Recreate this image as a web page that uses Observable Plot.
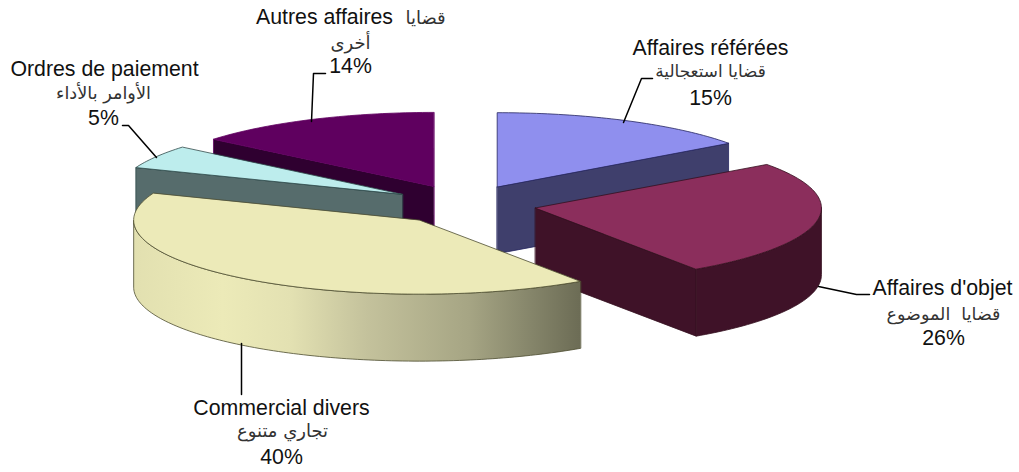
<!DOCTYPE html>
<html>
<head>
<meta charset="utf-8">
<script src="https://cdn.jsdelivr.net/npm/d3@7"></script>
<script src="https://cdn.jsdelivr.net/npm/@observablehq/plot@0.6"></script>
<style>
html,body{margin:0;padding:0;background:#fff}
svg{display:block}
</style>
</head>
<body>
<div id="chart"></div>
<script>
// Data
const categoriesFr = ["Affaires référées", "Affaires d'objet", "Commercial divers", "Ordres de paiement", "Autres affaires"];
const categoriesAr = ["قضايا استعجالية", "قضايا  الموضوع", "تجاري متنوع", "الأوامر بالأداء", "أخرى"];
const extraAr = "قضايا";
const values = [15.0, 25.5, 40.4, 5.1, 14.0];

// Styles
const topColors = ["#8F8FEE", "#8B2E5C", "#ECEAB8", "#BDEDED", "#5F005F"];
const sideColors = ["#3F3F6C", "#3F1228", "#C9C79C", "#566C6C", "#2F0030"];
const edgeColors = ["#26265f", "#35101f", "#4c4c30", "#2f4a4a", "#5F005F"];
const drawOrder = [0, 1, 4, 3, 2];
const arFontSizes = [16.9, 17.5, 18, 17.7, 18];
const extraArFontSize = 18;

// Pie geometry
const W = 1019, H = 472;
const cx = 464, cy = 204, rx = 286, ry = 74, depth = 67;
const explodeX = 72, explodeY = 20;

const arcs = d3.pie().sort(null).value(d => d)(values);
const slices = arcs.map((a, i) => {
  const mid = (a.startAngle + a.endAngle) / 2;
  return {
    i,
    a0: a.startAngle,
    a1: a.endAngle,
    ox: cx + explodeX * Math.sin(mid),
    oy: cy - explodeY * Math.cos(mid)
  };
});
const rim = (s, t, h = 0) => [s.ox + rx * Math.sin(t), s.oy - ry * Math.cos(t) + h];
function arcPts(s, t0, t1, h = 0) {
  const n = Math.max(8, Math.ceil((t1 - t0) * 50));
  return d3.range(n + 1).map(k => rim(s, t0 + (t1 - t0) * k / n, h));
}
const topFace = s => [[s.ox, s.oy], ...arcPts(s, s.a0, s.a1)];
// Only the front half of the rim (quarter to three-quarter turn) faces the viewer
const frontFrom = Math.PI / 2, frontTo = 3 * Math.PI / 2;
function wallFace(s) {
  const t0 = Math.max(s.a0, frontFrom), t1 = Math.min(s.a1, frontTo);
  if (t1 <= t0) return null;
  return [...arcPts(s, t0, t1), ...arcPts(s, t0, t1, depth).reverse()];
}
const radialFace = (s, t) => [[s.ox, s.oy], rim(s, t), rim(s, t, depth), [s.ox, s.oy + depth]];

const face = (pts, fill, stroke, sw = 0.8) => Plot.line(pts, {
  x: d => d[0], y: d => d[1], curve: "linear-closed",
  fill, stroke, strokeWidth: sw, strokeLinejoin: "round"
});

const sliceMarks = drawOrder.flatMap(i => {
  const s = slices[i];
  const edge = edgeColors[i], side = sideColors[i];
  const wallFill = i === 2 ? "url(#wallGradient)" : side;
  const out = [];
  if (Math.sin(s.a0) < -1e-6) out.push(face(radialFace(s, s.a0), side, edge));
  if (Math.sin(s.a1) > 1e-6) out.push(face(radialFace(s, s.a1), side, edge));
  const w = wallFace(s);
  if (w) out.push(face(w, wallFill, edge));
  out.push(face(topFace(s), topColors[i], edge));
  return out;
});

// Gradient for the large slice's outer wall
const wallStops = [[0, "#E2E0B0"], [0.2, "#ECEAB8"], [0.35, "#E3E1B2"], [0.52, "#C4C29C"], [0.75, "#A6A584"], [0.89, "#85856A"], [1, "#6C6C55"]];
const gradientDefs = () => {
  const defs = d3.create("svg:defs");
  const g = defs.append("linearGradient").attr("id", "wallGradient").attr("x1", 0).attr("x2", 1).attr("y1", 0).attr("y2", 0);
  wallStops.forEach(([o, c]) => g.append("stop").attr("offset", o).attr("stop-color", c));
  return defs.node();
};

// Leaders and label layout
const leaders = [
  [[623, 122], [641, 78], [652, 78]],
  [[818, 286], [856, 294], [869, 294]],
  [[241, 343], [241, 394]],
  [[156, 157], [128, 125], [122, 125]],
  [[311, 121], [313, 73], [325, 73]]
];
const frPos = [[710, 48], [942, 288], [281, 408], [104, 69], [324, 17]];
const arPos = [[710, 71], [943, 314], [282, 431], [103, 93], [350, 43]];
const pctPos = [[710, 98], [943, 338], [281, 457], [103, 118], [350, 66]];
const extraArPos = [425, 18];

const latinLines = [
  ...categoriesFr.map((t, i) => ({t, p: frPos[i]})),
  ...values.map((v, i) => ({t: Math.round(v) + "%", p: pctPos[i]}))
];
const arabicLines = [
  ...categoriesAr.map((t, i) => ({t, p: arPos[i], s: arFontSizes[i]})),
  {t: extraAr, p: extraArPos, s: extraArFontSize}
];

const plot = Plot.plot({
  width: W, height: H,
  marginTop: 0, marginRight: 0, marginBottom: 0, marginLeft: 0,
  x: {type: "linear", domain: [0, W], range: [0, W], axis: null},
  y: {type: "linear", domain: [0, H], range: [0, H], axis: null},
  style: {background: "#fff"},
  marks: [
    gradientDefs,
    ...sliceMarks,
    ...leaders.map(pts => Plot.line(pts, {x: d => d[0], y: d => d[1], stroke: "#000", strokeWidth: 1.5, curve: "linear"})),
    Plot.text(latinLines, {x: d => d.p[0], y: d => d.p[1], text: d => d.t, fontSize: 21.3, fontFamily: "Liberation Sans, Arial, sans-serif", fill: "#111", textAnchor: "middle", lineAnchor: "middle"}),
    ...arabicLines.map(d => Plot.text([d], {x: d => d.p[0], y: d => d.p[1], text: d => d.t, fontSize: d.s, fontFamily: "DejaVu Sans, sans-serif", fill: "#333", textAnchor: "middle", lineAnchor: "middle"}))
  ]
});
document.getElementById("chart").appendChild(plot);
</script>
</body>
</html>
